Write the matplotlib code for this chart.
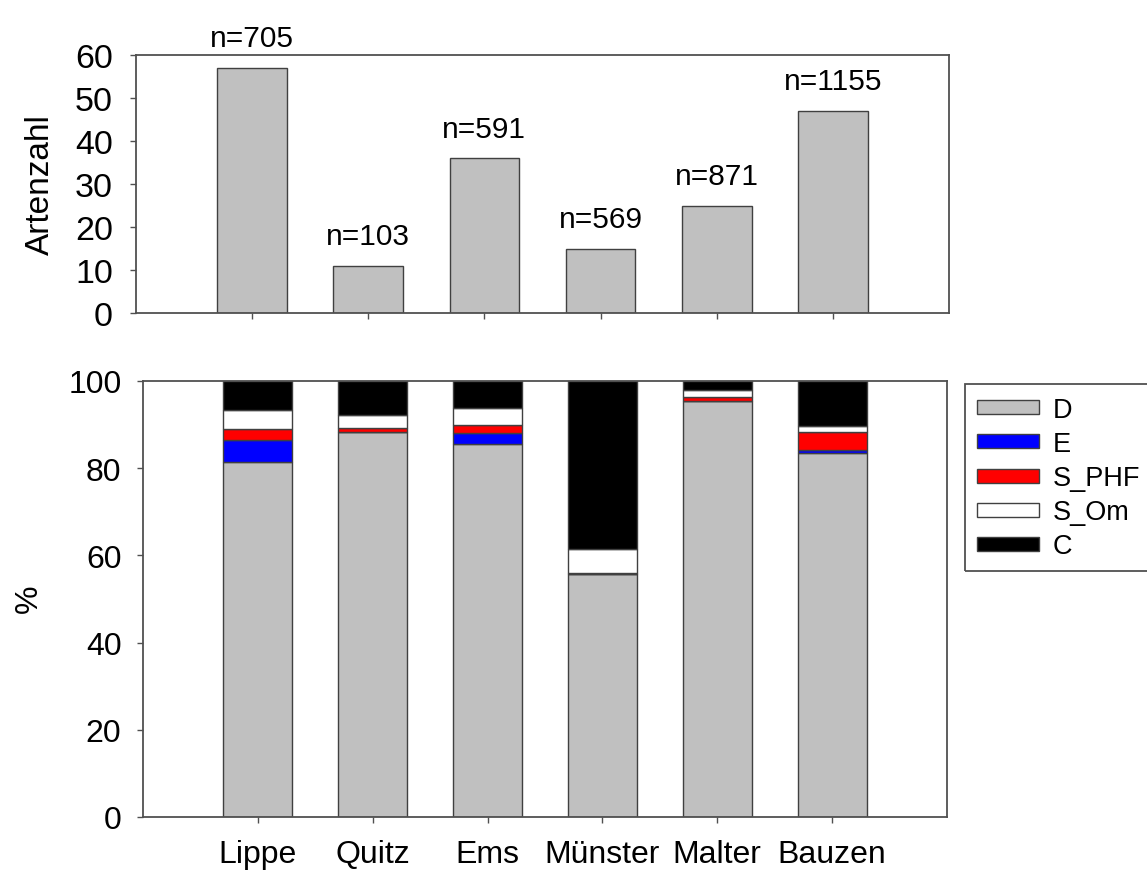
import matplotlib
matplotlib.use("Agg")
import matplotlib.pyplot as plt
from matplotlib.patches import Rectangle

plt.rcParams['font.family'] = ['Liberation Sans', 'DejaVu Sans']

# Daten
standorte = ['Lippe', 'Quitz', 'Ems', 'Münster', 'Malter', 'Bauzen']
artenzahl = [57, 11, 36, 15, 25, 47]
n_werte = [705, 103, 591, 569, 871, 1155]

# Anteile in % (von unten nach oben gestapelt)
D = [81.5, 88.2, 85.6, 55.7, 95.3, 83.4]
E = [4.9, 0.2, 2.4, 0.1, 0.2, 0.7]
S_PHF = [2.7, 0.9, 2.0, 0.2, 0.9, 4.3]
S_Om = [4.3, 2.9, 3.8, 5.5, 1.5, 1.2]
C = [6.6, 7.8, 6.2, 38.5, 2.1, 10.4]

gruppen = ['D', 'E', 'S_PHF', 'S_Om', 'C']
werte = [D, E, S_PHF, S_Om, C]
farben = ['#c0c0c0', '#0000ff', '#ff0000', '#ffffff', '#000000']

W, H = 1147, 878
fig = plt.figure(figsize=(W / 100, H / 100), dpi=100)

spine_col = '#505050'
bar_edge = '#404040'
x = list(range(len(standorte)))

# oberes Diagramm: Artenzahl
ax1 = fig.add_axes([136 / W, 1 - 314 / H, (949 - 136) / W, (314 - 56) / H])
ax1.bar(x, artenzahl, width=0.6, color='#c0c0c0', edgecolor=bar_edge, linewidth=1.0)
for xi, v, n in zip(x, artenzahl, n_werte):
    ax1.text(xi, v + 5, f'n={n}', ha='center', va='baseline', fontsize=21.5)
ax1.set_xlim(-1, 6)
ax1.set_ylim(0, 60)
ax1.set_yticks(range(0, 61, 10))
ax1.set_xticks(x)
ax1.set_xticklabels([])
ax1.tick_params(axis='both', direction='out', length=4.5, width=1, color=spine_col,
                labelsize=24.5, pad=12)
ax1.text(40 / W, 1 - 185 / H, 'Artenzahl', transform=fig.transFigure, rotation=90,
         ha='center', va='center', fontsize=24)

# unteres Diagramm: Anteile
ax2 = fig.add_axes([143 / W, 1 - 818 / H, (947 - 143) / W, (818 - 382) / H])
unten = [0.0] * len(standorte)
for name, vals, farbe in zip(gruppen, werte, farben):
    ax2.bar(x, vals, width=0.6, bottom=unten, color=farbe, edgecolor=bar_edge,
            linewidth=1.0, label=name)
    unten = [b + v for b, v in zip(unten, vals)]
ax2.set_xlim(-1, 6)
ax2.set_ylim(0, 100)
ax2.set_yticks(range(0, 101, 20))
ax2.set_xticks(x)
ax2.set_xticklabels(standorte)
ax2.tick_params(axis='both', direction='out', length=4.5, width=1, color=spine_col,
                labelsize=23, pad=11)
ax2.tick_params(axis='x', labelsize=23)
ax2.text(29 / W, 1 - 599 / H, '%', transform=fig.transFigure, rotation=90,
         ha='center', va='center', fontsize=23)

for ax in (ax1, ax2):
    for sp in ax.spines.values():
        sp.set_color(spine_col)
        sp.set_linewidth(1.3)

# Legende
leg = fig.legend(*ax2.get_legend_handles_labels(), loc='upper left',
                 bbox_to_anchor=(977 / W, 1 - 398 / H), frameon=False, fontsize=19.5,
                 handlelength=2.3, handleheight=0.42, labelspacing=0.3,
                 handletextpad=0.5, borderaxespad=0, borderpad=0)
fig.patches.append(Rectangle((965 / W, 1 - 572 / H), 200 / W, (572 - 385) / H,
                             transform=fig.transFigure, facecolor='none',
                             edgecolor=spine_col, linewidth=1.3))

fig.savefig('out.png', dpi=100)
